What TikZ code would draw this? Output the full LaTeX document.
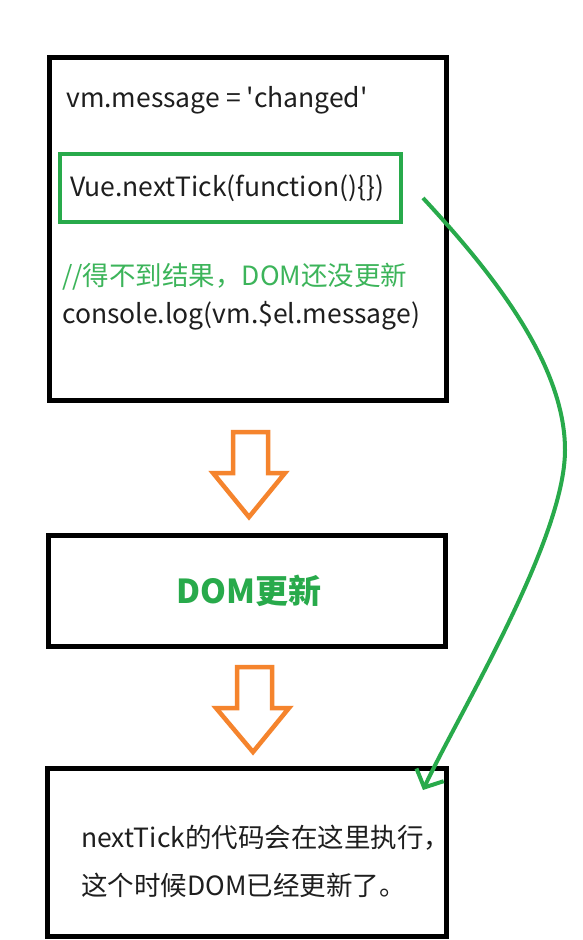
\documentclass[tikz,border=0pt]{standalone}
\usepackage{fontspec}
\setmainfont{Noto Sans CJK SC}
\usetikzlibrary{arrows.meta}
\definecolor{ink}{RGB}{30,30,30}
\definecolor{gline}{RGB}{40,170,75}
\definecolor{gtext}{RGB}{60,180,90}
\definecolor{orng}{RGB}{245,132,45}
\newcommand{\sq}{\XeTeXglyph\XeTeXcharglyph"0027\relax}
\tikzset{
  blackbox/.style={draw=black, line width=5pt, minimum width=#1, inner sep=0pt},
  greenbox/.style={draw=gline, line width=4pt, inner sep=0pt},
  codetext/.style={anchor=west, inner sep=0pt, text=ink, font=\fontsize{26.5}{30}\selectfont},
  commenttext/.style={anchor=west, inner sep=0pt, text=gtext, font=\fontsize{26.5}{30}\selectfont},
  bigarrow/.style={draw=orng, line width=4.5pt, line join=miter, fill=white},
  flow/.style={draw=gline, line width=4pt, -{Straight Barb[length=14pt 0, width=30pt 0]}}
}
\begin{document}
\begin{tikzpicture}[x=1pt,y=-1pt]
\useasboundingbox (0,0) rectangle (582,940);
\fill[white] (0,0) rectangle (582,940);
% boxes
\node[blackbox=397pt, minimum height=343pt] (b1) at (247.5,228.5) {};
\node[greenbox, minimum width=341pt, minimum height=68pt] (nt) at (230.5,188) {};
\node[blackbox=397pt, minimum height=111pt] (b2) at (246.5,590.5) {};
\node[blackbox=399pt, minimum height=168pt] (b3) at (247,852) {};
% texts
\node[codetext] (t1) at (66,100) {vm.message = \sq changed\sq};
\node[codetext] (t2) at (70,188) {Vue.nextTick(function()\{\})};
\node[commenttext] (t3) at (62,277) {//得不到结果，DOM还没更新};
\node[codetext] (t4) at (62,316) {console.log(vm.\$el.message)};
\node[inner sep=0pt, text=gline, font=\fontsize{33}{38}\selectfont\bfseries] (t5) at (249,591) {DOM更新};
\node[codetext] (t6) at (81,838) {nextTick的代码会在这里执行，};
\node[codetext] (t7) at (81,885) {这个时候DOM已经更新了。};
% orange arrows
\draw[bigarrow] (233,432) -- (268,432) -- (268,473) -- (285,473) -- (249,517) -- (213,473) -- (233,473) -- cycle;
\draw[bigarrow] (237,667) -- (272,667) -- (272,708) -- (289,708) -- (253,752) -- (216,708) -- (237,708) -- cycle;
% green curve
\coordinate (cs) at (423,198);
\coordinate (cm) at (565,450);
\coordinate (ce) at (423,790);
\draw[flow] (cs) .. controls (485,265) and (565,360) .. (cm) .. controls (565,540) and (458,715) .. (ce);
\end{tikzpicture}
\end{document}
